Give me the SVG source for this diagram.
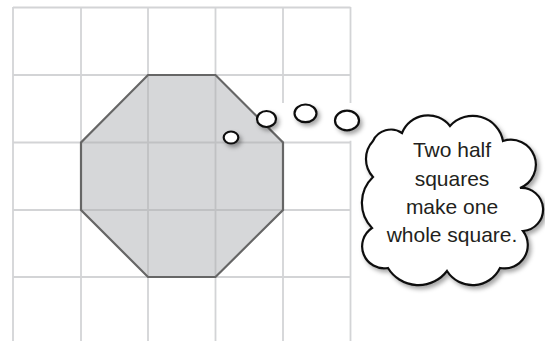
<svg xmlns="http://www.w3.org/2000/svg" width="545" height="341" viewBox="0 0 545 341">
  <defs>
    <style>
      .grid { stroke: #d3d4d6; stroke-width: 1.8; }
      .gridIn { stroke: #c0c1c3; stroke-width: 1.8; }
      .bub { fill: #fff; stroke: #111; stroke-width: 2.2; }
      .txt { font-family: "Liberation Sans", Arial, sans-serif; font-size: 21px; fill: #231f20; text-anchor: middle; }
    </style>
    <clipPath id="octClip">
      <polygon points="148,75 215.5,75 283,142.5 283,210 215.5,277 148,277 81,210 81,142.5"/>
    </clipPath>
    <filter id="shadow" x="-30%" y="-30%" width="170%" height="170%">
      <feDropShadow dx="2.5" dy="3" stdDeviation="2" flood-color="#000" flood-opacity="0.35"/>
    </filter>
    <g id="gridLines">
      <line x1="13" y1="7" x2="13" y2="341"/>
      <line x1="81" y1="7" x2="81" y2="341"/>
      <line x1="148" y1="7" x2="148" y2="341"/>
      <line x1="215.5" y1="7" x2="215.5" y2="341"/>
      <line x1="283" y1="7" x2="283" y2="341"/>
      <line x1="350.5" y1="7" x2="350.5" y2="341"/>
      <line x1="13" y1="7.5" x2="350.5" y2="7.5"/>
      <line x1="13" y1="75" x2="350.5" y2="75"/>
      <line x1="13" y1="142.5" x2="350.5" y2="142.5"/>
      <line x1="13" y1="210" x2="350.5" y2="210"/>
      <line x1="13" y1="277" x2="350.5" y2="277"/>
    </g>
  </defs>
  <rect width="545" height="341" fill="#fff"/>

  <g id="grid" class="grid">
    <use href="#gridLines"/>
  </g>

  <g id="octagon">
    <polygon points="148,75 215.5,75 283,142.5 283,210 215.5,277 148,277 81,210 81,142.5" fill="#d6d7d9"/>
    <g class="gridIn" clip-path="url(#octClip)">
      <use href="#gridLines"/>
    </g>
    <polygon points="243,103 352.5,103 352.5,140.8 281,140.8" fill="#fff"/>
    <polygon points="148,75 215.5,75 283,142.5 283,210 215.5,277 148,277 81,210 81,142.5" fill="none" stroke="#666" stroke-width="2.2" stroke-linejoin="miter"/>
  </g>

  <g id="thought-bubbles" filter="url(#shadow)">
    <ellipse class="bub" cx="231" cy="137.5" rx="7.3" ry="6"/>
    <ellipse class="bub" cx="266.5" cy="119" rx="9.5" ry="8"/>
    <ellipse class="bub" cx="305.5" cy="113.3" rx="11" ry="8.8"/>
    <ellipse class="bub" cx="347" cy="120.5" rx="12" ry="9.8"/>
  </g>

  <g id="cloud">
    <path filter="url(#shadow)" fill="#fff" stroke="#111" stroke-width="2.2" stroke-linejoin="miter"
      d="M373,141 A19.7,19.7 0 0 1 402,133 A28,28 0 0 1 450,126 A30.7,30.7 0 0 1 503,141 A25,25 0 0 1 520,188 A21.5,21.5 0 0 1 523,231 A23.3,23.3 0 0 1 500,268 A30.4,30.4 0 0 1 447,271 A35.8,35.8 0 0 1 388,268 A22,22 0 0 1 372,228 A36,36 0 0 1 373,177 A26.6,26.6 0 0 1 373,141 Z"/>
    <text class="txt" x="452" y="157">Two half</text>
    <text class="txt" x="452" y="185.5">squares</text>
    <text class="txt" x="452" y="214">make one</text>
    <text class="txt" x="452" y="242">whole square.</text>
  </g>
</svg>
